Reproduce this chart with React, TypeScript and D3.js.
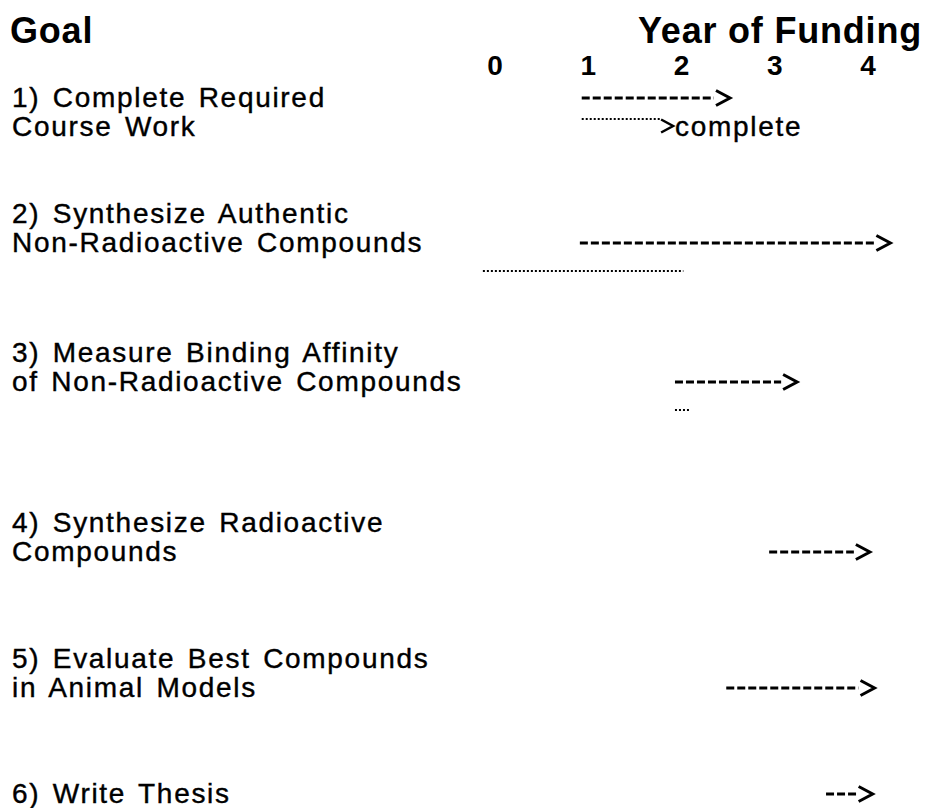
import React from "react";
import * as d3 from "d3";

// Year ticks across the top
const years = [0, 1, 2, 3, 4];

// Goals, one entry per row (text lines as printed)
const goalLines = [
  ["1) Complete Required", "Course Work"],
  ["2) Synthesize Authentic", "Non-Radioactive Compounds"],
  ["3) Measure Binding Affinity", "of Non-Radioactive Compounds"],
  ["4) Synthesize Radioactive", "Compounds"],
  ["5) Evaluate Best Compounds", "in Animal Models"],
  ["6) Write Thesis"],
];

// Planned span (dashed arrow), in years
const plannedStart = [0.93, 0.91, 1.93, 2.94, 2.48, 3.55];
const plannedEnd = [2.52, 4.24, 3.24, 4.02, 4.07, 4.05];

// Progress so far (dotted), in years; null = none
const actualStart = [0.93, -0.13, 1.93, null, null, null];
const actualEnd = [1.91, 2.02, 2.08, null, null, null];
const actualArrow = [true, false, false, false, false, false];
const actualLabel = ["complete", "", "", "", "", ""];

// which text line the planned arrow sits on
const arrowLine = [0, 1, 1, 1, 1, 0];

// layout: vertical centre of the first text line of each row
const rowCenter = [97, 213, 352, 522, 658, 793];
const lineGap = 29;

const width = 927;
const height = 808;
const font = "'Liberation Sans', Arial, Helvetica, sans-serif";

const x = d3.scaleLinear().domain([0, 4]).range([495, 868]);

const chevron = (tip: number, y: number, w = 14, h = 15) =>
  d3.line()([
    [tip - w, y - h / 2],
    [tip, y],
    [tip - w, y + h / 2],
  ]) as string;

export default function App() {
  return (
    <svg
      width={width}
      height={height}
      style={{ position: "absolute", left: 0, top: 0, background: "#fff" }}
      fontFamily={font}
    >
      <text x={10} y={43} fontSize={36} fontWeight="bold" letterSpacing={0.8}>
        Goal
      </text>
      <text
        x={922}
        y={43}
        fontSize={36}
        fontWeight="bold"
        letterSpacing={0.8}
        textAnchor="end"
      >
        Year of Funding
      </text>

      {years.map((yr) => (
        <text
          key={yr}
          x={x(yr)}
          y={75}
          fontSize={28}
          fontWeight="bold"
          textAnchor="middle"
        >
          {yr}
        </text>
      ))}

      {goalLines.map((lines, i) => {
        const y0 = rowCenter[i];
        const ya = y0 + arrowLine[i] * lineGap + 1;
        const yd = ya + lineGap - 1;
        const hasActual = actualStart[i] !== null;
        return (
          <g key={i}>
            {lines.map((ln, j) => (
              <text
                key={j}
                x={12}
                y={y0 + j * lineGap + 10}
                fontSize={28}
                letterSpacing={1.7}
                wordSpacing={3}
                stroke="#000"
                strokeWidth={0.4}
              >
                {ln}
              </text>
            ))}
            <line
              x1={x(plannedStart[i])}
              x2={x(plannedEnd[i]) - 16}
              y1={ya}
              y2={ya}
              stroke="#000"
              strokeWidth={3}
              strokeDasharray="8,3"
            />
            <path
              d={chevron(x(plannedEnd[i]), ya)}
              fill="none"
              stroke="#000"
              strokeWidth={3}
            />
            {hasActual && (
              <>
                <line
                  x1={x(actualStart[i] as number)}
                  x2={x(actualEnd[i] as number) - (actualArrow[i] ? 13 : 0)}
                  y1={actualArrow[i] ? yd - 7 : yd}
                  y2={actualArrow[i] ? yd - 7 : yd}
                  stroke="#000"
                  strokeWidth={2.2}
                  strokeDasharray="2,2"
                />
                {actualArrow[i] && (
                  <path
                    d={chevron(x(actualEnd[i] as number), yd, 12, 13)}
                    fill="none"
                    stroke="#000"
                    strokeWidth={2.5}
                  />
                )}
                {actualLabel[i] && (
                  <text
                    x={x(actualEnd[i] as number) + 2}
                    y={yd + 10}
                    fontSize={28}
                    letterSpacing={1.7}
                    stroke="#000"
                    strokeWidth={0.4}
                  >
                    {actualLabel[i]}
                  </text>
                )}
              </>
            )}
          </g>
        );
      })}
    </svg>
  );
}
